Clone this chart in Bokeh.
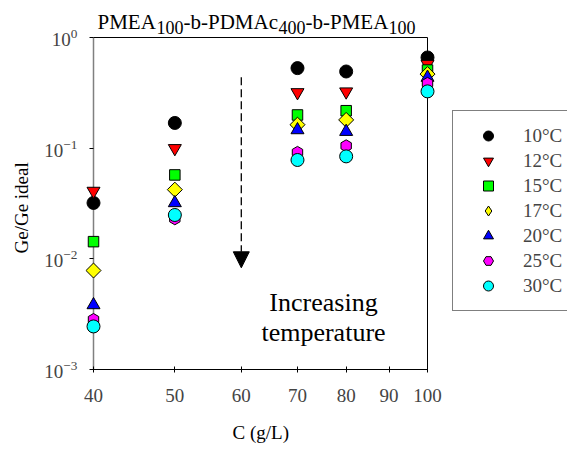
import math
from bokeh.plotting import figure
from bokeh.models import (Range1d, FixedTicker, LogTickFormatter, Arrow, NormalHead,
                          Label, Legend, LegendItem, PrintfTickFormatter, Title)
from bokeh.embed import file_html
from bokeh.resources import INLINE

# ---------------- data ----------------
conc = [40, 50, 70, 80, 100]
temps = ["10°C", "12°C", "15°C", "17°C", "20°C", "25°C", "30°C"]
g10 = [0.0320, 0.169, 0.529, 0.493, 0.660]
g12 = [0.0410, 0.0996, 0.319, 0.324, 0.575]
g15 = [0.0143, 0.0573, 0.1995, 0.218, 0.508]
g17 = [0.00784, 0.0422, 0.163, 0.180, 0.467]
g20 = [0.00383, 0.0320, 0.146, 0.141, 0.435]
g25 = [0.00283, 0.0230, 0.0916, 0.105, 0.385]
g30 = [0.00245, 0.0249, 0.0782, 0.0843, 0.326]
series = [g10, g12, g15, g17, g20, g25, g30]
x_ticks = [40, 50, 60, 70, 80, 90, 100]

# ---------------- styling ----------------
FONT = "Liberation Serif"
colors = ["#000000", "#FF0000", "#00FF00", "#FFFF00", "#0000FF", "#FF00FF", "#00FFFF"]
markers = ["circle", "inverted_triangle", "square", "square", "triangle", "hex", "circle"]
legend_markers = ["circle", "inverted_triangle", "square", "diamond", "triangle", "hex", "circle"]
angles = [0, 0, 0, math.pi / 4, 0, math.pi / 2, 0]
sizes = [13, 13, 10.5, 10.6, 13, 12, 13]

W, H = 567, 450
AX_L, AX_R, AX_T, AX_B = 93, 427, 37, 369   # pixel box of the axes (40..100, 1e-3..1)
FRAME_L = 85                                 # frame left edge (y axis drawn here)
XMIN, XMAX = 40, 100
YMIN, YMAX = 1e-3, 1.0
dec_px = (math.log10(XMAX) - math.log10(XMIN)) / (AX_R - AX_L)
ydec_px = (math.log10(YMAX) - math.log10(YMIN)) / (AX_B - AX_T)

def cx(px):  # pixel x -> data x
    return 10 ** (math.log10(XMIN) + (px - AX_L) * dec_px)

def cy(py):  # pixel y -> data y
    return 10 ** (math.log10(YMAX) - (py - AX_T) * ydec_px)

p = figure(width=W, height=H, x_axis_type="log", y_axis_type="log", title=None,
           x_range=Range1d(cx(FRAME_L), cx(W)), y_range=Range1d(YMIN, cy(0)),
           output_backend="svg", toolbar_location=None,
           min_border_left=FRAME_L, min_border_right=0, min_border_top=0,
           min_border_bottom=H - AX_B)
p.outline_line_color = None
p.xgrid.visible = False
p.ygrid.visible = False
p.background_fill_color = "white"
p.border_fill_color = "white"

# x axis
xa = p.xaxis[0]
xa.bounds = (XMIN, XMAX)
xa.ticker = FixedTicker(ticks=x_ticks)
xa.formatter = PrintfTickFormatter(format="%d")
xa.axis_line_color = "black"
xa.major_tick_in = 3
xa.major_tick_out = 3
xa.minor_tick_line_color = None
xa.major_label_text_font = FONT
xa.major_label_text_font_size = "19px"
xa.major_label_standoff = 16

# y axis
ya = p.yaxis[0]
ya.bounds = (YMIN, YMAX)
ya.axis_line_color = None
ya.formatter = LogTickFormatter()
ya.major_tick_in = 8
ya.major_tick_out = -4
ya.minor_tick_line_color = None
ya.major_label_text_font = FONT
ya.major_label_text_font_size = "19px"
ya.major_label_standoff = 4

# axis titles, centred on the axis box rather than on the (wider) frame
x_title = "C (g/L)"
y_title = "Ge/Ge ideal"
p.add_layout(Title(text=" ", text_font_size="1px", standoff=10), "below")   # spacer
p.add_layout(Title(text=x_title, align="left", offset=147, vertical_align="middle",
                   standoff=6, text_font=FONT, text_font_size="19px",
                   text_font_style="normal", text_color="black"), "below")
p.add_layout(Title(text=y_title, align="left", offset=116, vertical_align="middle",
                   standoff=18, text_font=FONT, text_font_size="19px",
                   text_font_style="normal", text_color="black"), "left")

# plot box lines: grey left, black top and right
p.segment(x0=[XMIN], y0=[YMIN], x1=[XMIN], y1=[YMAX], line_color="#808080", line_width=1.5)
p.segment(x0=[XMIN, XMAX], y0=[YMAX, YMIN], x1=[XMAX, XMAX], y1=[YMAX, YMAX],
          line_color="black", line_width=1)

# data
items = []
for t, vals, mk, lmk, ang, sz, col in zip(temps, series, markers, legend_markers,
                                           angles, sizes, colors):
    r = p.scatter(conc, vals, marker=mk, angle=ang, size=sz, fill_color=col,
                  line_color="black", line_width=1)
    if lmk != mk:
        # legend swatch needs the marker's own shape (legend ignores rotation)
        r = p.scatter(conc[:1], vals[:1], marker=lmk, size=sz, fill_color=col,
                      line_color="black", line_width=1, visible=False)
    items.append(LegendItem(label=t, renderers=[r]))

# legend (box from x=452, y=112..311; its right side runs off the page)
legend = Legend(items=items, location=(452 - FRAME_L, AX_B - 311),
                glyph_height=25, label_height=25, glyph_width=46, spacing=0,
                padding=12, label_standoff=12, margin=0,
                border_line_color="black", border_line_width=1,
                label_text_font=FONT, label_text_font_size="19px",
                background_fill_color="white", background_fill_alpha=1.0)
p.add_layout(legend)

# dashed arrow
arrow_x, arrow_top, arrow_tip = 60, cy(76.7), cy(267.3)
p.add_layout(Arrow(x_start=arrow_x, y_start=arrow_top, x_end=arrow_x, y_end=arrow_tip,
                   line_color="black", line_width=1.3, line_dash="8 4",
                   end=NormalHead(size=16, fill_color="black", line_color="black")))

# annotation text
for txt, py in [("Increasing", 301.7), ("temperature", 331.7)]:
    p.add_layout(Label(x=cx(323), y=cy(py), text=txt, text_align="center",
                       text_baseline="alphabetic", text_font=FONT,
                       text_font_size="26px", text_color="black"))

# title with subscripts
title_parts = [("PMEA", 97, False), ("100", 156, True), ("-b-PDMAc", 183, False),
               ("400", 278, True), ("-b-PMEA", 305, False), ("100", 388, True)]
for txt, px, sub in title_parts:
    p.add_layout(Label(x=cx(px), y=cy(26.7 if sub else 21.7), text=txt,
                       text_align="left", text_baseline="alphabetic", text_font=FONT,
                       text_font_size="18px" if sub else "21px", text_color="black"))

open("out.html", "w").write(file_html(p, INLINE))
